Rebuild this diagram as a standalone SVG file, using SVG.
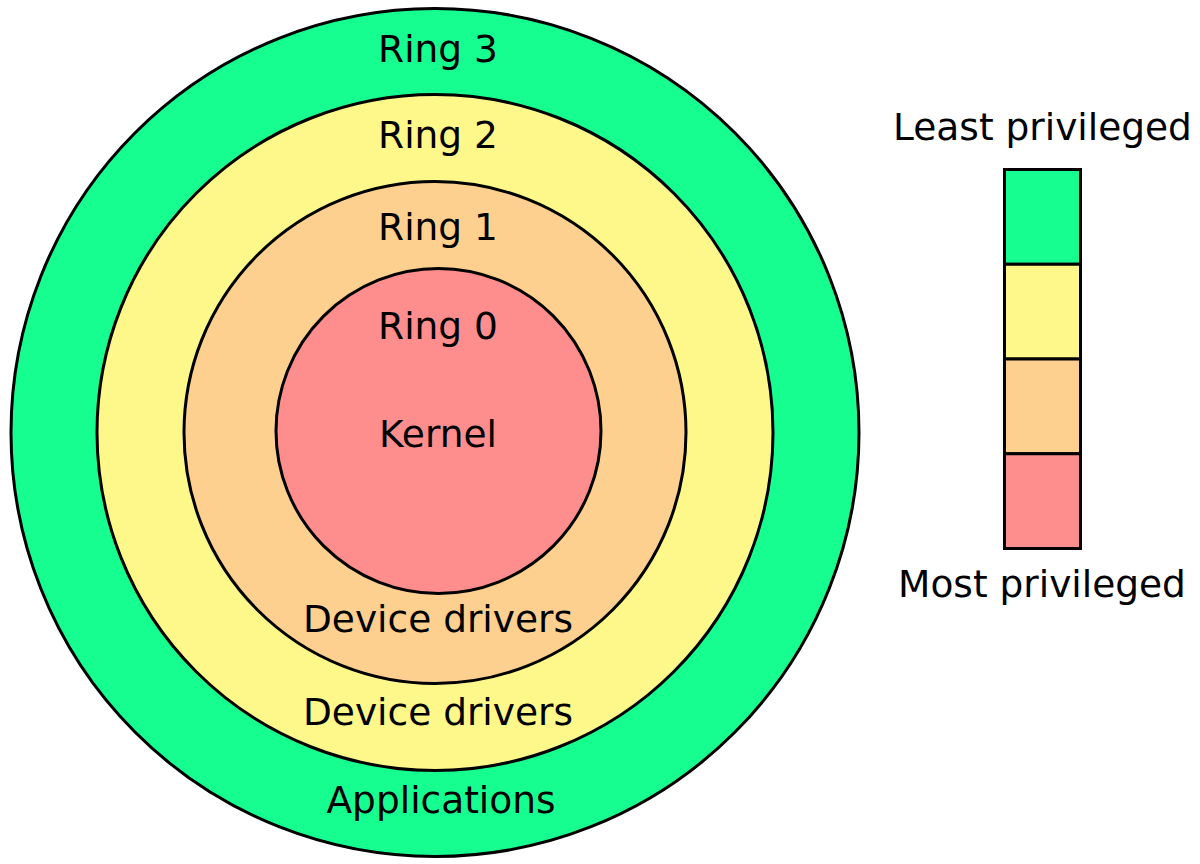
<svg xmlns="http://www.w3.org/2000/svg" width="1200" height="864" viewBox="0 0 1200 864">
<style>
.ring{stroke:#000;stroke-width:3}
.g{fill:#16FE8F}.y{fill:#FEF88B}.o{fill:#FED08F}.r{fill:#FE8E8E}
text{font-family:"DejaVu Sans",Verdana,sans-serif;font-size:37.5px;fill:#000;text-anchor:middle}
</style>
<rect width="1200" height="864" fill="#fff"/>
<g id="ring3">
<circle class="ring g" cx="435" cy="432.5" r="424"/>
<text x="438" y="62">Ring 3</text>
<text x="441" y="813">Applications</text>
</g>
<g id="ring2">
<circle class="ring y" cx="435" cy="432.5" r="338"/>
<text x="438" y="148">Ring 2</text>
<text x="438" y="725">Device drivers</text>
</g>
<g id="ring1">
<circle class="ring o" cx="435" cy="432.5" r="251"/>
<text x="438" y="240">Ring 1</text>
<text x="438" y="632">Device drivers</text>
</g>
<g id="ring0">
<circle class="ring r" cx="438.5" cy="431" r="162.5"/>
<text x="438" y="339">Ring 0</text>
<text x="438" y="447">Kernel</text>
</g>
<g id="legend">
<text x="1042.5" y="140">Least privileged</text>
<rect class="ring g" x="1004.5" y="169.5" width="76" height="94.75"/>
<rect class="ring y" x="1004.5" y="264.25" width="76" height="94.75"/>
<rect class="ring o" x="1004.5" y="359" width="76" height="94.75"/>
<rect class="ring r" x="1004.5" y="453.75" width="76" height="94.75"/>
<text x="1042" y="597">Most privileged</text>
</g>
</svg>
